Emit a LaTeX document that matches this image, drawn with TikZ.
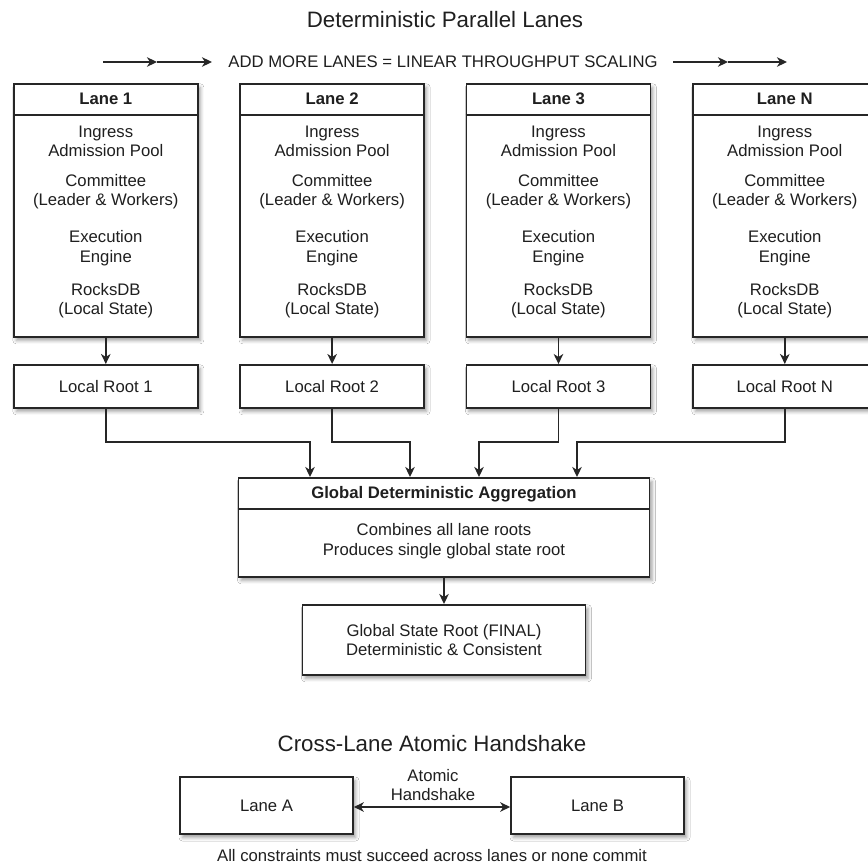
\documentclass[tikz,border=0pt]{standalone}
\usepackage{fontspec}
\setmainfont{Liberation Sans}
\usetikzlibrary{arrows.meta,calc,shadows.blur}
\begin{document}
\begin{tikzpicture}[x=1pt,y=-1pt,
  txt/.style={font=\fontsize{16.7}{19.5}\selectfont, text=black!88, align=center, inner sep=2pt},
  head/.style={txt, font=\fontsize{16.7}{19.5}\selectfont\bfseries},
  ttl/.style={font=\fontsize{22.3}{26}\selectfont, text=black!88, inner sep=2pt},
  box/.style={draw=black!85, line width=1.6pt, fill=white, inner sep=0pt,
    txt,
    blur shadow={shadow xshift=2.5pt, shadow yshift=-3.5pt, shadow blur radius=3.5pt, shadow opacity=38}},
  lanebox/.style={box, minimum width=184pt, minimum height=253pt},
  rootbox/.style={box, minimum width=184pt, minimum height=43pt},
  edge/.style={draw=black!85, line width=1.6pt},
  arr/.style={edge, -{Stealth[length=10pt,width=9.5pt,inset=3pt]}},
  arrboth/.style={edge, {Stealth[length=10pt,width=9.5pt,inset=3pt]}-{Stealth[length=10pt,width=9.5pt,inset=3pt]}}
]
\useasboundingbox (0,0) rectangle (868,864);
\fill[white] (0,0) rectangle (868,864);

\node[ttl] (title1) at (445,20) {Deterministic Parallel Lanes};

\coordinate (l0) at (103,62);
\coordinate (l1) at (157,62);
\coordinate (l2) at (212,62);
\coordinate (r0) at (673,62);
\coordinate (r1) at (728,62);
\coordinate (r2) at (787,62);
\node[txt] (scaling) at (443,62) {ADD MORE LANES = LINEAR THROUGHPUT SCALING};
\draw[arr] (l0) -- (l1);
\draw[arr] (l1) -- (l2);
\draw[arr] (r0) -- (r1);
\draw[arr] (r1) -- (r2);

\coordinate (bus) at (0,442);

\foreach \i/\t in {0/1,1/2,2/3,3/N}{
  \pgfmathsetmacro\lx{13+226.33*\i}
  \node[lanebox, anchor=north west] (lane\t) at (\lx,83) {};
  \draw[edge] ([yshift=-32pt]lane\t.north west) -- ([yshift=-32pt]lane\t.north east);
  \node[head] (lane\t-h) at ($(lane\t.north)+(0,16)$) {Lane \t};
  \node[txt] (lane\t-a) at ($(lane\t.north)+(0,58.5)$) {Ingress\\Admission Pool};
  \node[txt] (lane\t-b) at ($(lane\t.north)+(0,108.5)$) {Committee\\(Leader \& Workers)};
  \node[txt] (lane\t-c) at ($(lane\t.north)+(0,165)$) {Execution\\Engine};
  \node[txt] (lane\t-d) at ($(lane\t.north)+(0,217.5)$) {RocksDB\\(Local State)};
  \node[rootbox, anchor=north west] (root\t) at (\lx,364) {Local Root \t};
  \draw[arr] (lane\t.south) -- (root\t.north);
}

\node[box, minimum width=411pt, minimum height=99pt, anchor=north] (agg) at (444,477) {};
\draw[edge] ([yshift=-32pt]agg.north west) -- ([yshift=-32pt]agg.north east);
\node[head] (agg-h) at ($(agg.north)+(0,17)$) {Global Deterministic Aggregation};
\node[txt] (agg-b) at ($(agg.north)+(0,64)$) {Combines all lane roots\\Produces single global state root};

\draw[arr] (root1.south) -- (root1.south |- bus) -| ([xshift=-134pt]agg.north);
\draw[arr] (root2.south) -- (root2.south |- bus) -| ([xshift=-34pt]agg.north);
\draw[arr] (root3.south) -- (root3.south |- bus) -| ([xshift=35pt]agg.north);
\draw[arr] (rootN.south) -- (rootN.south |- bus) -| ([xshift=133pt]agg.north);

\node[box, minimum width=283pt, minimum height=70pt, anchor=north] (final) at (444,604) {Global State Root (FINAL)\\Deterministic \& Consistent};
\draw[arr] (agg.south) -- (final.north);

\node[ttl] (title2) at (432,744) {Cross-Lane Atomic Handshake};
\node[box, minimum width=173pt, minimum height=57pt] (laneA) at (266.5,805.5) {Lane A};
\node[box, minimum width=173pt, minimum height=57pt] (laneB) at (597.5,805.5) {Lane B};
\draw[arrboth] ([yshift=-1.5pt]laneA.east) -- ([yshift=-1.5pt]laneB.west);
\node[txt] (hs) at (433,785) {Atomic\\Handshake};
\node[txt] (cap) at (432,856) {All constraints must succeed across lanes or none commit};
\end{tikzpicture}
\end{document}
